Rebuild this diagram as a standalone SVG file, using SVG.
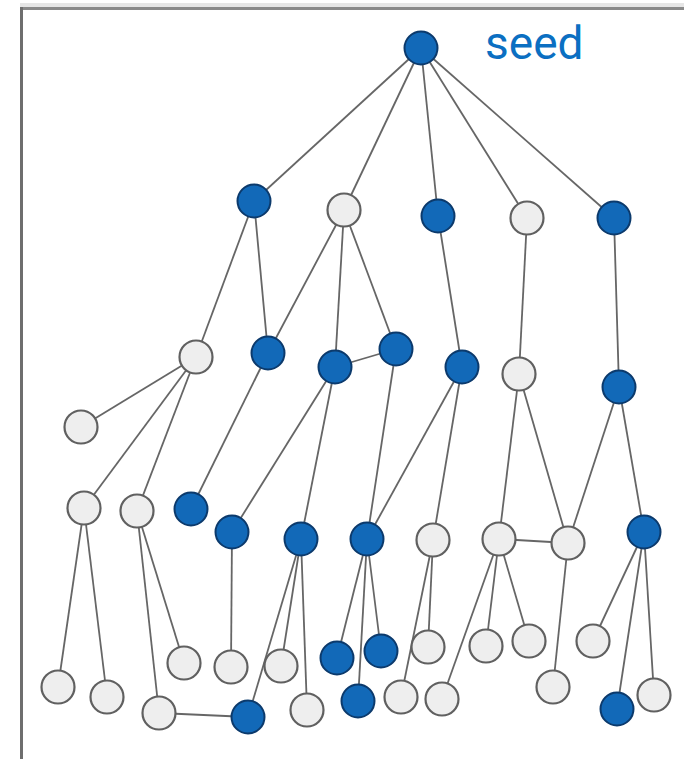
<svg xmlns="http://www.w3.org/2000/svg" width="684" height="759" viewBox="0 0 684 759">
<style>
.e{stroke:#666666;stroke-width:1.8;fill:none}
.b{fill:#1269b8;stroke:#0c3a6c;stroke-width:2}
.g{fill:#eeeeee;stroke:#606060;stroke-width:2.2}
.t{font-family:Roboto,"Liberation Sans",sans-serif;font-size:46px;fill:#0b6fc2}
</style>
<rect width="684" height="759" fill="#ffffff"/>
<rect x="20" y="3" width="664" height="4" fill="#e6e6e6"/>
<rect x="20" y="7" width="664" height="3" fill="#8a8a8a"/>
<rect x="20" y="7" width="3" height="752" fill="#6e6e6e"/>
<g id="connectors">
<line class="e" x1="421" y1="48" x2="254" y2="201"/>
<line class="e" x1="421" y1="48" x2="344" y2="210"/>
<line class="e" x1="421" y1="48" x2="438" y2="216"/>
<line class="e" x1="421" y1="48" x2="527" y2="218"/>
<line class="e" x1="421" y1="48" x2="614" y2="218"/>
<line class="e" x1="254" y1="201" x2="196" y2="357"/>
<line class="e" x1="254" y1="201" x2="268" y2="353"/>
<line class="e" x1="344" y1="210" x2="268" y2="353"/>
<line class="e" x1="344" y1="210" x2="335" y2="367"/>
<line class="e" x1="344" y1="210" x2="396" y2="349"/>
<line class="e" x1="335" y1="367" x2="396" y2="349"/>
<line class="e" x1="438" y1="216" x2="462" y2="367"/>
<line class="e" x1="527" y1="218" x2="519" y2="374"/>
<line class="e" x1="614" y1="218" x2="619" y2="387"/>
<line class="e" x1="196" y1="357" x2="81" y2="427"/>
<line class="e" x1="196" y1="357" x2="84" y2="508"/>
<line class="e" x1="196" y1="357" x2="137" y2="511"/>
<line class="e" x1="268" y1="353" x2="191" y2="509"/>
<line class="e" x1="335" y1="367" x2="232" y2="532"/>
<line class="e" x1="335" y1="367" x2="301" y2="539"/>
<line class="e" x1="396" y1="349" x2="367" y2="539"/>
<line class="e" x1="462" y1="367" x2="367" y2="539"/>
<line class="e" x1="462" y1="367" x2="433" y2="540"/>
<line class="e" x1="519" y1="374" x2="499" y2="539"/>
<line class="e" x1="519" y1="374" x2="568" y2="543"/>
<line class="e" x1="619" y1="387" x2="568" y2="543"/>
<line class="e" x1="619" y1="387" x2="644" y2="532"/>
<line class="e" x1="499" y1="539" x2="568" y2="543"/>
<line class="e" x1="84" y1="508" x2="58" y2="687"/>
<line class="e" x1="84" y1="508" x2="107" y2="697"/>
<line class="e" x1="137" y1="511" x2="159" y2="713"/>
<line class="e" x1="137" y1="511" x2="184" y2="663"/>
<line class="e" x1="232" y1="532" x2="231" y2="667"/>
<line class="e" x1="301" y1="539" x2="248" y2="717"/>
<line class="e" x1="301" y1="539" x2="281" y2="666"/>
<line class="e" x1="301" y1="539" x2="307" y2="710"/>
<line class="e" x1="159" y1="713" x2="248" y2="717"/>
<line class="e" x1="367" y1="539" x2="337" y2="658"/>
<line class="e" x1="367" y1="539" x2="358" y2="701"/>
<line class="e" x1="367" y1="539" x2="381" y2="651"/>
<line class="e" x1="433" y1="540" x2="401" y2="697"/>
<line class="e" x1="433" y1="540" x2="428" y2="647"/>
<line class="e" x1="499" y1="539" x2="442" y2="699"/>
<line class="e" x1="499" y1="539" x2="486" y2="646"/>
<line class="e" x1="499" y1="539" x2="529" y2="641"/>
<line class="e" x1="568" y1="543" x2="553" y2="687"/>
<line class="e" x1="644" y1="532" x2="593" y2="641"/>
<line class="e" x1="644" y1="532" x2="617" y2="709"/>
<line class="e" x1="644" y1="532" x2="654" y2="695"/>
</g>
<g id="seed"><circle class="b" cx="421" cy="48" r="16.5"/></g>
<g id="label"><text class="t" x="485" y="59">seed</text></g>
<g id="n1a"><circle class="b" cx="254" cy="201" r="16.5"/></g>
<g id="n1b"><circle class="g" cx="344" cy="210" r="16.5"/></g>
<g id="n1c"><circle class="b" cx="438" cy="216" r="16.5"/></g>
<g id="n1d"><circle class="g" cx="527" cy="218" r="16.5"/></g>
<g id="n1e"><circle class="b" cx="614" cy="218" r="16.5"/></g>
<g id="n2f"><circle class="g" cx="196" cy="357" r="16.5"/></g>
<g id="n2g"><circle class="b" cx="268" cy="353" r="16.5"/></g>
<g id="n2h"><circle class="b" cx="335" cy="367" r="16.5"/></g>
<g id="n2i"><circle class="b" cx="396" cy="349" r="16.5"/></g>
<g id="n2j"><circle class="b" cx="462" cy="367" r="16.5"/></g>
<g id="n2k"><circle class="g" cx="519" cy="374" r="16.5"/></g>
<g id="n2l"><circle class="b" cx="619" cy="387" r="16.5"/></g>
<g id="n3m"><circle class="g" cx="81" cy="427" r="16.5"/></g>
<g id="n3n"><circle class="g" cx="84" cy="508" r="16.5"/></g>
<g id="n3o"><circle class="g" cx="137" cy="511" r="16.5"/></g>
<g id="n3p"><circle class="b" cx="191" cy="509" r="16.5"/></g>
<g id="n3q"><circle class="b" cx="232" cy="532" r="16.5"/></g>
<g id="n3r"><circle class="b" cx="301" cy="539" r="16.5"/></g>
<g id="n3s"><circle class="b" cx="367" cy="539" r="16.5"/></g>
<g id="n3t"><circle class="g" cx="433" cy="540" r="16.5"/></g>
<g id="n3u"><circle class="g" cx="499" cy="539" r="16.5"/></g>
<g id="n3v"><circle class="g" cx="568" cy="543" r="16.5"/></g>
<g id="n3w"><circle class="b" cx="644" cy="532" r="16.5"/></g>
<g id="n4a"><circle class="g" cx="58" cy="687" r="16.5"/></g>
<g id="n4b"><circle class="g" cx="107" cy="697" r="16.5"/></g>
<g id="n4c"><circle class="g" cx="159" cy="713" r="16.5"/></g>
<g id="n4d"><circle class="g" cx="184" cy="663" r="16.5"/></g>
<g id="n4e"><circle class="g" cx="231" cy="667" r="16.5"/></g>
<g id="n4f"><circle class="b" cx="248" cy="717" r="16.5"/></g>
<g id="n4g"><circle class="g" cx="281" cy="666" r="16.5"/></g>
<g id="n4h"><circle class="g" cx="307" cy="710" r="16.5"/></g>
<g id="n4i"><circle class="b" cx="337" cy="658" r="16.5"/></g>
<g id="n4j"><circle class="b" cx="358" cy="701" r="16.5"/></g>
<g id="n4k"><circle class="b" cx="381" cy="651" r="16.5"/></g>
<g id="n4l"><circle class="g" cx="401" cy="697" r="16.5"/></g>
<g id="n4m"><circle class="g" cx="428" cy="647" r="16.5"/></g>
<g id="n4n"><circle class="g" cx="442" cy="699" r="16.5"/></g>
<g id="n4o"><circle class="g" cx="486" cy="646" r="16.5"/></g>
<g id="n4p"><circle class="g" cx="529" cy="641" r="16.5"/></g>
<g id="n4q"><circle class="g" cx="553" cy="687" r="16.5"/></g>
<g id="n4r"><circle class="g" cx="593" cy="641" r="16.5"/></g>
<g id="n4s"><circle class="b" cx="617" cy="709" r="16.5"/></g>
<g id="n4t"><circle class="g" cx="654" cy="695" r="16.5"/></g>
</svg>
